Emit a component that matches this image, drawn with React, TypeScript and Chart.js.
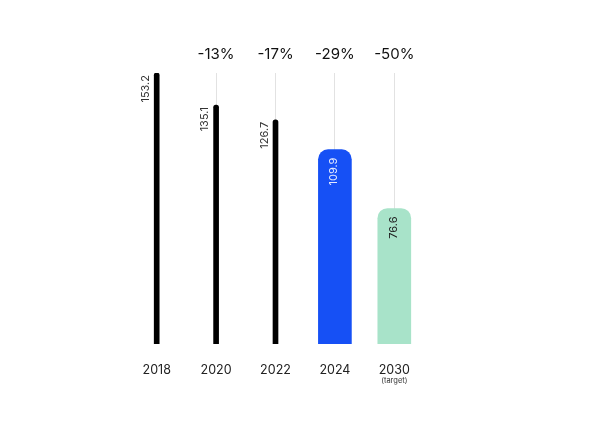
import React, { useEffect, useRef } from "react";
import { Chart, registerables } from "chart.js";

Chart.register(...registerables);

const categories = ["2018", "2020", "2022", "2024", "2030"];
const subLabels = ["", "", "", "", "(target)"];
const historicValues = [153.2, 135.1, 126.7, null, null];
const highlightValues = [null, null, null, 109.9, 76.6];
const valueLabels = ["153.2", "135.1", "126.7", "109.9", "76.6"];
const changeLabels = ["", "-13%", "-17%", "-29%", "-50%"];
const highlightColors = ["#1650F5", "#1650F5", "#1650F5", "#1650F5", "#A8E3C9"];
const highlightTextColors = ["#fff", "#fff", "#fff", "#E4EAFF", "#1E1E1E"];

const FONT = "Inter, 'Noto Sans', sans-serif";

const labelPlugin = {
  id: "labelPlugin",
  afterDatasetsDraw(chart: any) {
    const ctx = chart.ctx;
    const xs = chart.scales.x;
    const ys = chart.scales.y;
    ctx.save();
    categories.forEach((cat, i) => {
      const x = xs.getPixelForValue(i);
      // change labels
      if (changeLabels[i]) {
        ctx.font = `400 15px ${FONT}`;
        ctx.fillStyle = "#111";
        ctx.textAlign = "center";
        ctx.textBaseline = "middle";
        ctx.fillText(changeLabels[i], x, 54);
      }
      // category labels
      ctx.font = `400 12.5px ${FONT}`;
      ctx.fillStyle = "#222";
      ctx.textAlign = "center";
      ctx.textBaseline = "middle";
      ctx.fillText(cat, x, 370);
      if (subLabels[i]) {
        ctx.font = `400 7.5px ${FONT}`;
        ctx.fillStyle = "#333";
        ctx.fillText(subLabels[i], x, 381);
      }
      // value labels
      const hv = historicValues[i];
      const cv = highlightValues[i];
      ctx.font = `400 11px ${FONT}`;
      if (hv != null) {
        const top = ys.getPixelForValue(hv);
        ctx.save();
        ctx.translate(x - 11, top + 2);
        ctx.rotate(-Math.PI / 2);
        ctx.textAlign = "right";
        ctx.textBaseline = "middle";
        ctx.fillStyle = "#333";
        ctx.fillText(valueLabels[i], 0, 0);
        ctx.restore();
      } else if (cv != null) {
        const top = ys.getPixelForValue(cv);
        ctx.save();
        ctx.translate(x - 1, top + 8);
        ctx.rotate(-Math.PI / 2);
        ctx.textAlign = "right";
        ctx.textBaseline = "middle";
        ctx.fillStyle = highlightTextColors[i];
        ctx.fillText(valueLabels[i], 0, 0);
        ctx.restore();
      }
    });
    ctx.restore();
  },
};

export default function App() {
  const ref = useRef<HTMLCanvasElement | null>(null);
  useEffect(() => {
    if (!ref.current) return;
    const chart = new Chart(ref.current, {
      type: "bar",
      data: {
        labels: categories,
        datasets: [
          {
            data: historicValues as any,
            backgroundColor: "#000",
            barThickness: 5,
            grouped: false,
            borderRadius: { topLeft: 2.5, topRight: 2.5, bottomLeft: 0, bottomRight: 0 },
            borderSkipped: false,
          } as any,
          {
            data: highlightValues as any,
            backgroundColor: highlightColors,
            barThickness: 33,
            grouped: false,
            borderRadius: { topLeft: 10, topRight: 10, bottomLeft: 0, bottomRight: 0 },
            borderSkipped: false,
          } as any,
        ],
      },
      options: {
        animation: false,
        responsive: true,
        maintainAspectRatio: false,
        layout: { padding: { left: 127, right: 170, top: 73, bottom: 98 } },
        plugins: { legend: { display: false }, tooltip: { enabled: false } },
        scales: {
          x: {
            display: true,
            grid: { offset: false, color: "#E2E2E2", lineWidth: 1, drawTicks: false },
            ticks: { display: false },
            border: { display: false },
          },
          y: { display: false, min: 0, max: 153.2 },
        },
      },
      plugins: [labelPlugin],
    });
    return () => chart.destroy();
  }, []);
  return (
    <div style={{ position: "fixed", left: 0, top: 0, width: 594, height: 442, background: "#fff" }}>
      <canvas ref={ref} />
    </div>
  );
}
